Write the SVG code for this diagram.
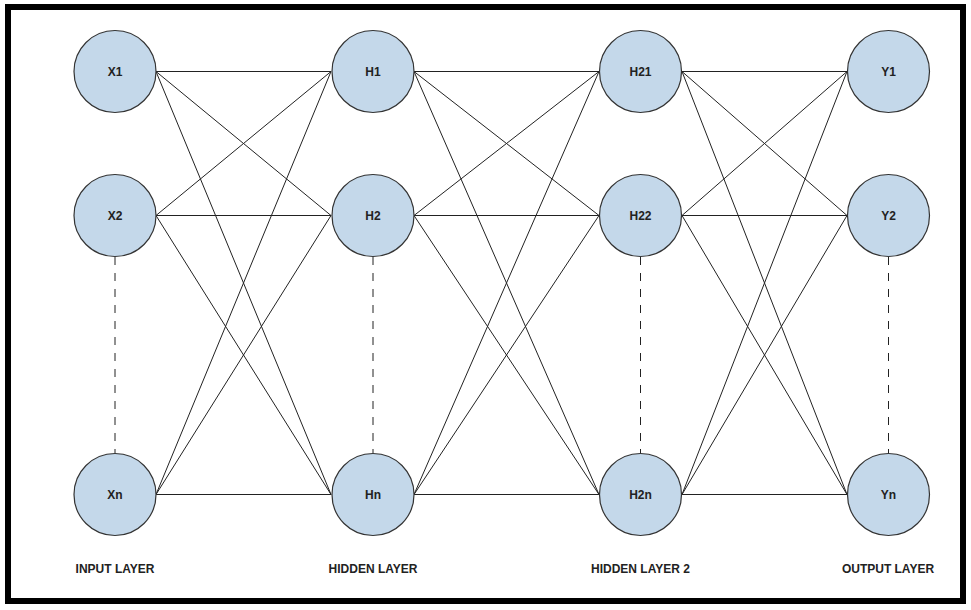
<svg xmlns="http://www.w3.org/2000/svg" width="971" height="610" viewBox="0 0 971 610">
<style>
.n{fill:#c4d8ea;stroke:#333;stroke-width:1.2}
.t{font-family:"Liberation Sans",Arial,sans-serif;font-weight:bold;font-size:12px;fill:#222;text-anchor:middle}
.e line{stroke:#222;stroke-width:1}
.d line{stroke:#222;stroke-width:1;stroke-dasharray:8 8}
</style>
<rect x="0" y="0" width="971" height="610" fill="#fff"/>
<rect x="8" y="7" width="955" height="594" fill="#fff" stroke="#000" stroke-width="6"/>
<g class="e" id="connectors">
<line x1="156" y1="71.5" x2="331" y2="71.5"/><line x1="156" y1="71.5" x2="331" y2="215.5"/><line x1="156" y1="71.5" x2="331" y2="494.5"/>
<line x1="156" y1="215.5" x2="331" y2="71.5"/><line x1="156" y1="215.5" x2="331" y2="215.5"/><line x1="156" y1="215.5" x2="331" y2="494.5"/>
<line x1="156" y1="494.5" x2="331" y2="71.5"/><line x1="156" y1="494.5" x2="331" y2="215.5"/><line x1="156" y1="494.5" x2="331" y2="494.5"/>
<line x1="414" y1="71.5" x2="599" y2="71.5"/><line x1="414" y1="71.5" x2="599" y2="215.5"/><line x1="414" y1="71.5" x2="599" y2="494.5"/>
<line x1="414" y1="215.5" x2="599" y2="71.5"/><line x1="414" y1="215.5" x2="599" y2="215.5"/><line x1="414" y1="215.5" x2="599" y2="494.5"/>
<line x1="414" y1="494.5" x2="599" y2="71.5"/><line x1="414" y1="494.5" x2="599" y2="215.5"/><line x1="414" y1="494.5" x2="599" y2="494.5"/>
<line x1="682" y1="71.5" x2="847" y2="71.5"/><line x1="682" y1="71.5" x2="847" y2="215.5"/><line x1="682" y1="71.5" x2="847" y2="494.5"/>
<line x1="682" y1="215.5" x2="847" y2="71.5"/><line x1="682" y1="215.5" x2="847" y2="215.5"/><line x1="682" y1="215.5" x2="847" y2="494.5"/>
<line x1="682" y1="494.5" x2="847" y2="71.5"/><line x1="682" y1="494.5" x2="847" y2="215.5"/><line x1="682" y1="494.5" x2="847" y2="494.5"/>
</g>
<g class="d" id="dashed">
<line x1="115" y1="257" x2="115" y2="453"/>
<line x1="373" y1="257" x2="373" y2="453"/>
<line x1="640.5" y1="257" x2="640.5" y2="453"/>
<line x1="888.5" y1="257" x2="888.5" y2="453"/>
</g>
<g id="X1"><circle class="n" cx="115" cy="71.5" r="41"/><text class="t" x="115" y="76">X1</text></g>
<g id="X2"><circle class="n" cx="115" cy="215.5" r="41"/><text class="t" x="115" y="220">X2</text></g>
<g id="Xn"><circle class="n" cx="115" cy="494.5" r="41"/><text class="t" x="115" y="499">Xn</text></g>
<g id="H1"><circle class="n" cx="373" cy="71.5" r="41"/><text class="t" x="373" y="76">H1</text></g>
<g id="H2"><circle class="n" cx="373" cy="215.5" r="41"/><text class="t" x="373" y="220">H2</text></g>
<g id="Hn"><circle class="n" cx="373" cy="494.5" r="41"/><text class="t" x="373" y="499">Hn</text></g>
<g id="H21"><circle class="n" cx="640.5" cy="71.5" r="41"/><text class="t" x="640.5" y="76">H21</text></g>
<g id="H22"><circle class="n" cx="640.5" cy="215.5" r="41"/><text class="t" x="640.5" y="220">H22</text></g>
<g id="H2n"><circle class="n" cx="640.5" cy="494.5" r="41"/><text class="t" x="640.5" y="499">H2n</text></g>
<g id="Y1"><circle class="n" cx="888.5" cy="71.5" r="41"/><text class="t" x="888.5" y="76">Y1</text></g>
<g id="Y2"><circle class="n" cx="888.5" cy="215.5" r="41"/><text class="t" x="888.5" y="220">Y2</text></g>
<g id="Yn"><circle class="n" cx="888.5" cy="494.5" r="41"/><text class="t" x="888.5" y="499">Yn</text></g>
<g id="labels">
<text class="t" x="115" y="573">INPUT LAYER</text>
<text class="t" x="373" y="573">HIDDEN LAYER</text>
<text class="t" x="640.5" y="573">HIDDEN LAYER 2</text>
<text class="t" x="888" y="573">OUTPUT LAYER</text>
</g>
</svg>
